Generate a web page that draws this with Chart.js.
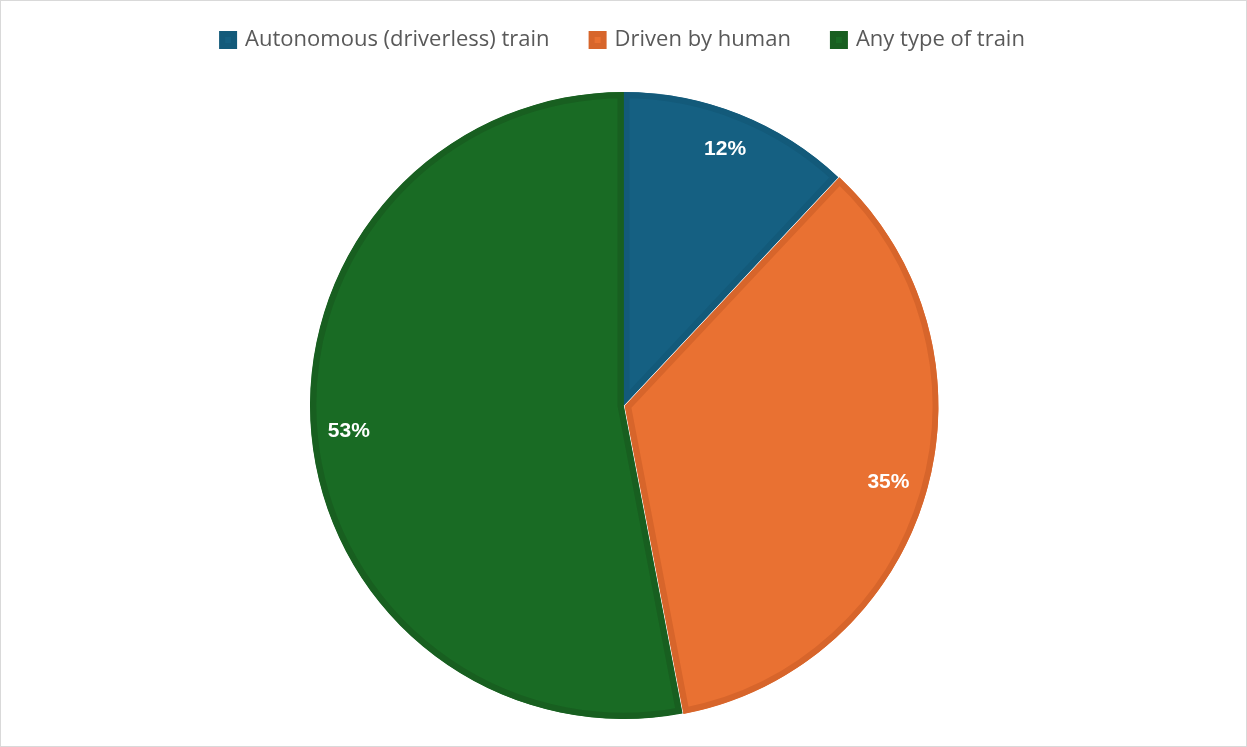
<!DOCTYPE html>
<html>
<head>
<meta charset="utf-8">
<script src="https://cdn.jsdelivr.net/npm/chart.js@4.4.1/dist/chart.umd.min.js"></script>
<style>
  html, body { margin: 0; padding: 0; background: #fff; }
  .wrap {
    position: relative;
    width: 1247px; height: 747px;
    box-sizing: border-box;
    border: 1px solid #d9d9d9;
    background: #fff;
  }
  canvas { display: block; }
</style>
</head>
<body>
<div class="wrap"><canvas id="pie" width="1245" height="745"></canvas></div>
<script>
// ── DATI ─────────────────────────────────────
const categories = ['Autonomous (driverless) train', 'Driven by human', 'Any type of train'];
const shares     = [12, 35, 53];
const fills      = ['#156082', '#e97132', '#196b24'];
const edges      = ['#135a7a', '#d7652b', '#185f20'];
const offsets    = [0, 6, 0];

// spazio extra sotto la legenda
const legendGap = {
  id: 'legendGap',
  beforeInit(chart) {
    const fit = chart.legend.fit;
    chart.legend.fit = function () {
      fit.bind(chart.legend)();
      this.height += 28;
    };
  }
};

// percentuali dentro le fette
const sliceLabels = {
  id: 'sliceLabels',
  afterDatasetsDraw(chart) {
    const { ctx } = chart;
    const meta = chart.getDatasetMeta(0);
    const values = chart.data.datasets[0].data;
    const total = values.reduce((a, b) => a + b, 0);
    ctx.save();
    ctx.fillStyle = '#ffffff';
    ctx.font = "bold 21px 'Liberation Sans', Arial, sans-serif";
    ctx.textAlign = 'center';
    ctx.textBaseline = 'middle';
    meta.data.forEach((arc, i) => {
      const p = arc.getProps(['x', 'y', 'startAngle', 'endAngle', 'outerRadius'], true);
      const mid = (p.startAngle + p.endAngle) / 2;
      const r = p.outerRadius * 0.88;
      const pct = Math.round(values[i] / total * 100) + '%';
      ctx.fillText(pct, p.x + Math.cos(mid) * r, p.y + Math.sin(mid) * r);
    });
    ctx.restore();
  }
};

new Chart(document.getElementById('pie'), {
  type: 'pie',
  data: {
    labels: categories,
    datasets: [{
      data: shares,
      backgroundColor: fills,
      borderColor: edges,
      borderWidth: 6,
      borderAlign: 'inner',
      hoverBorderWidth: 0,
      offset: offsets,
      hoverOffset: 0
    }]
  },
  options: {
    responsive: false,
    animation: false,
    events: [],
    layout: { padding: { top: -14, bottom: 24 } },
    plugins: {
      legend: {
        position: 'top',
        labels: {
          boxWidth: 12,
          boxHeight: 12,
          padding: 42,
          color: '#595959',
          font: { family: "'Open Sans', sans-serif", size: 22 }
        }
      },
      tooltip: { enabled: false }
    }
  },
  plugins: [legendGap, sliceLabels]
});
</script>
</body>
</html>
